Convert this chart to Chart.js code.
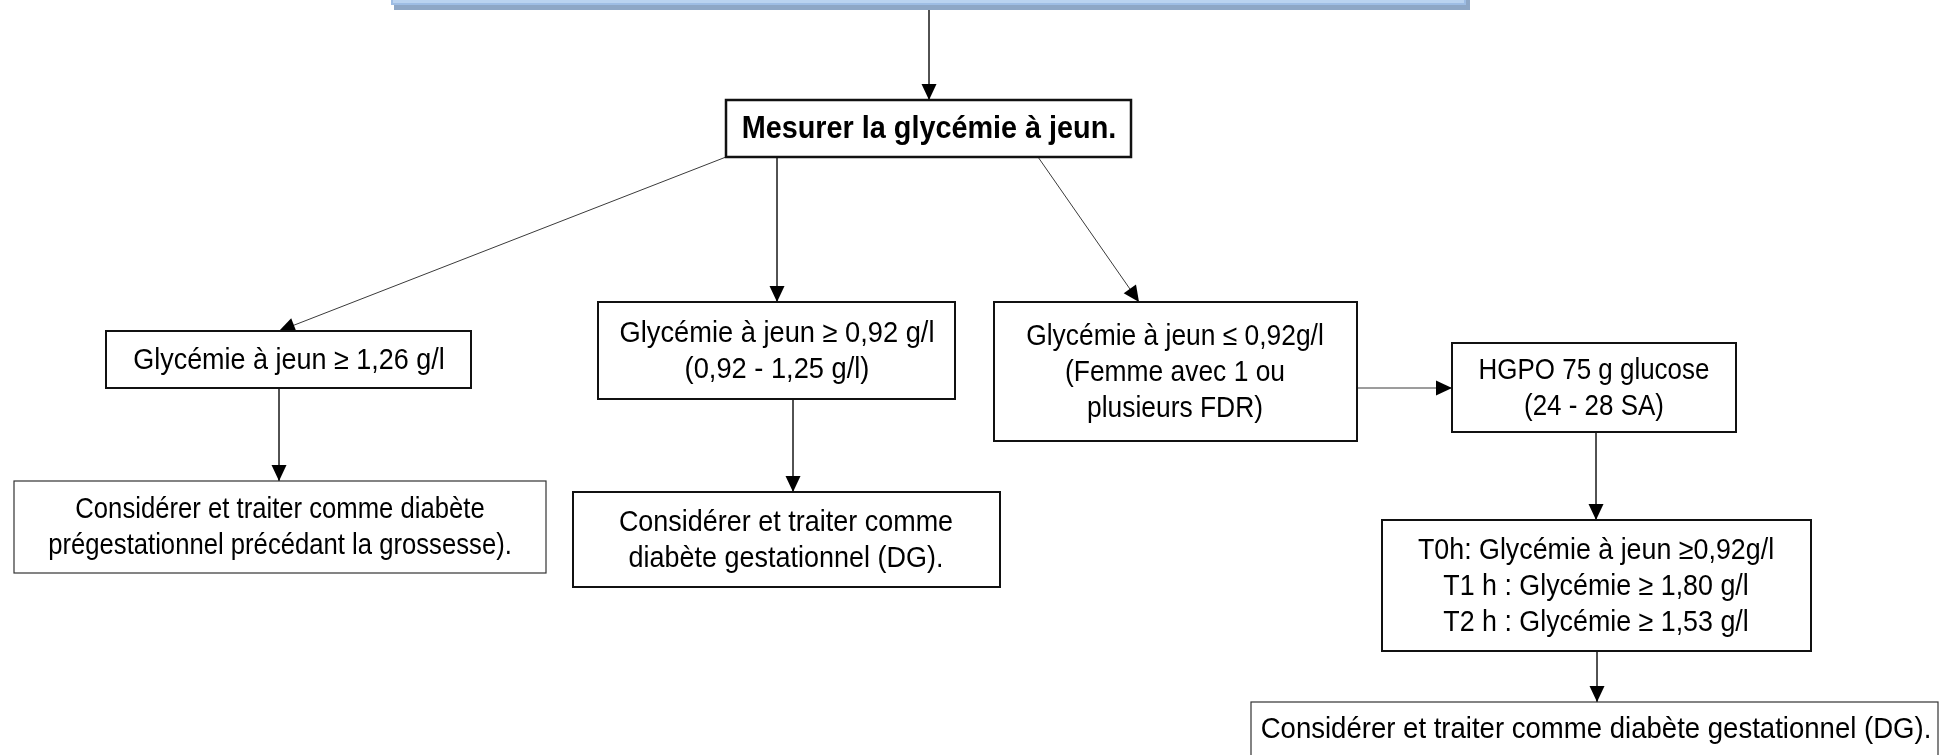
<!DOCTYPE html>
<html>
<head>
<meta charset="utf-8">
<script src="https://cdn.jsdelivr.net/npm/chart.js@4/dist/chart.umd.min.js"></script>
<style>
html,body{margin:0;padding:0;background:#fff;overflow:hidden;}
#wrap{width:1942px;height:755px;}
</style>
</head>
<body>
<div id="wrap"><canvas id="c" width="1942" height="755"></canvas></div>
<script>
// ---- Flowchart content ----
const nodeLabels = [
  ["Mesurer la glycémie à jeun."],
  ["Glycémie à jeun ≥ 1,26 g/l"],
  ["Glycémie à jeun ≥ 0,92 g/l", "(0,92 - 1,25 g/l)"],
  ["Glycémie à jeun ≤ 0,92g/l", "(Femme avec 1 ou", "plusieurs FDR)"],
  ["HGPO 75 g glucose", "(24 - 28 SA)"],
  ["Considérer et traiter comme diabète", "prégestationnel précédant la grossesse)."],
  ["Considérer et traiter comme", "diabète gestationnel (DG)."],
  ["T0h: Glycémie à jeun ≥0,92g/l", "T1 h : Glycémie ≥ 1,80 g/l", "T2 h : Glycémie ≥ 1,53 g/l"],
  ["Considérer et traiter comme diabète gestationnel (DG)."]
];
// box extents in chart units (x left, x right, y top, y bottom)
const nodeX1 = [726, 106, 598, 994, 1452, 14, 573, 1382, 1251];
const nodeX2 = [1131, 471, 955, 1357, 1736, 546, 1000, 1811, 1938];
const nodeY1 = [100, 331, 302, 302, 343, 481, 492, 520, 702];
const nodeY2 = [157, 388, 399, 441, 432, 573, 587, 651, 770];
const textX  = [929, 289, 777, 1175, 1594, 280, 786, 1596, 1596];
const nodeBold = [true, false, false, false, false, false, false, false, false];
const nodeBorder = [2.5, 2, 2, 2, 2, 1.2, 2, 2, 1.2];
const nodeStretch = [0.9, 0.93, 0.94, 0.91, 0.895, 0.885, 0.93, 0.925, 0.95];

// edges: start point -> end point (arrow at end)
const edgeX1 = [929, 726, 777, 1038, 279, 793, 1357, 1596, 1597];
const edgeY1 = [10, 157, 157, 157, 388, 399, 388, 432, 651];
const edgeX2 = [929, 279, 777, 1139, 279, 793, 1452, 1596, 1597];
const edgeY2 = [100, 331, 302, 302, 481, 492, 388, 520, 702];

// header banner (partially visible)
const bannerX = [391, 1470];
const bannerY = [-40, 10];

const FONT_FAMILY = '"Liberation Sans",Arial,sans-serif';
const FONT_SIZE = 29;
const BOLD_SIZE = 32;
const LINE_H = 36;

const edgeDatasets = edgeX1.map((x, i) => ({
  type: 'line',
  data: [{x: x, y: edgeY1[i]}, {x: edgeX2[i], y: edgeY2[i]}],
  borderColor: '#3a3a3a',
  borderWidth: 1,
  pointRadius: 0,
  showLine: true,
  fill: false,
  tension: 0
}));

const flowPlugin = {
  id: 'flow',
  beforeDatasetsDraw(chart) {
    const ctx = chart.ctx, xs = chart.scales.x, ys = chart.scales.y;
    const bx1 = xs.getPixelForValue(bannerX[0]), bx2 = xs.getPixelForValue(bannerX[1]);
    const by1 = ys.getPixelForValue(bannerY[0]), by2 = ys.getPixelForValue(bannerY[1]);
    ctx.save();
    ctx.fillStyle = '#8ea7c6';
    ctx.fillRect(bx1 + 3, by1, bx2 - bx1 - 3, by2 - by1);
    ctx.fillStyle = '#9ebde4';
    ctx.fillRect(bx1, by1, bx2 - bx1 - 4, by2 - by1 - 5);
    ctx.fillStyle = '#bad3f0';
    ctx.fillRect(bx1 + 2, by1, bx2 - bx1 - 8, by2 - by1 - 7);
    ctx.restore();
  },
  afterDatasetsDraw(chart) {
    const ctx = chart.ctx, xs = chart.scales.x, ys = chart.scales.y;
    ctx.save();
    // arrowheads
    chart.data.datasets.forEach((ds, i) => {
      const meta = chart.getDatasetMeta(i);
      const p0 = meta.data[0], p1 = meta.data[1];
      const ang = Math.atan2(p1.y - p0.y, p1.x - p0.x);
      const L = 16, W = 7.5;
      ctx.beginPath();
      ctx.moveTo(p1.x, p1.y);
      ctx.lineTo(p1.x - L * Math.cos(ang) + W * Math.sin(ang), p1.y - L * Math.sin(ang) - W * Math.cos(ang));
      ctx.lineTo(p1.x - L * Math.cos(ang) - W * Math.sin(ang), p1.y - L * Math.sin(ang) + W * Math.cos(ang));
      ctx.closePath();
      ctx.fillStyle = '#000';
      ctx.fill();
    });
    // boxes
    nodeLabels.forEach((lines, i) => {
      const x1 = xs.getPixelForValue(nodeX1[i]), x2 = xs.getPixelForValue(nodeX2[i]);
      const y1 = ys.getPixelForValue(nodeY1[i]), y2 = ys.getPixelForValue(nodeY2[i]);
      ctx.fillStyle = '#fff';
      ctx.fillRect(x1, y1, x2 - x1, y2 - y1);
      ctx.lineWidth = nodeBorder[i];
      ctx.strokeStyle = nodeBorder[i] < 1.5 ? '#333' : '#111';
      ctx.strokeRect(x1, y1, x2 - x1, y2 - y1);
      ctx.fillStyle = '#000';
      ctx.textAlign = 'center';
      ctx.textBaseline = 'middle';
      const bold = nodeBold[i];
      ctx.font = (bold ? 'bold ' : '') + (bold ? BOLD_SIZE : FONT_SIZE) + 'px ' + FONT_FAMILY;
      const sx = nodeStretch[i];
      const tx = xs.getPixelForValue(textX[i]);
      const visBottom = Math.min(y2, chart.height);
      const cy = (y1 + visBottom) / 2;
      const n = lines.length;
      lines.forEach((t, k) => {
        ctx.save();
        ctx.translate(tx, cy + (k - (n - 1) / 2) * LINE_H + 1);
        ctx.scale(sx, 1);
        ctx.fillText(t, 0, 0);
        ctx.restore();
      });
    });
    ctx.restore();
  }
};

new Chart(document.getElementById('c'), {
  type: 'scatter',
  data: { datasets: edgeDatasets },
  options: {
    responsive: false,
    animation: false,
    events: [],
    layout: { padding: 0 },
    plugins: { legend: { display: false }, tooltip: { enabled: false }, title: { display: false } },
    scales: {
      x: { type: 'linear', min: 0, max: 1942, display: false },
      y: { type: 'linear', min: 0, max: 755, reverse: true, display: false }
    }
  },
  plugins: [flowPlugin]
});
</script>
</body>
</html>
